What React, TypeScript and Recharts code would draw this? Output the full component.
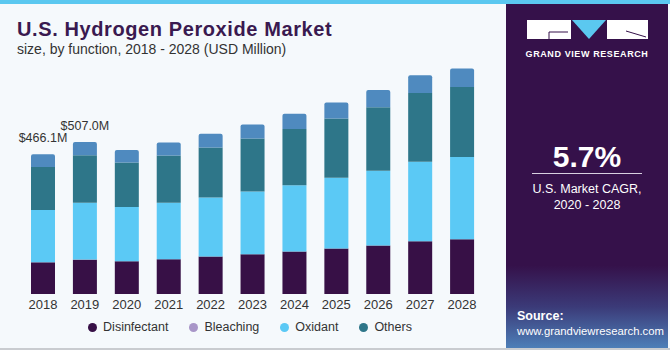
import React from 'react';
import { BarChart, Bar, XAxis, YAxis, Legend, LabelList } from 'recharts';

const years = ['2018', '2019', '2020', '2021', '2022', '2023', '2024', '2025', '2026', '2027', '2028'];
const disinfectant = [105.6, 114.6, 109.2, 115.9, 124.6, 132.6, 141.3, 151.3, 161.3, 175.7, 182.4];
const oxidant = [174.6, 189.5, 180.4, 188.0, 197.0, 209.0, 221.4, 236.0, 249.5, 265.2, 273.9];
const others = [143.5, 158.0, 149.0, 158.0, 167.0, 177.0, 187.0, 198.0, 211.4, 229.0, 233.8];
const bleaching = [42.4, 44.9, 41.4, 43.4, 45.8, 46.8, 51.4, 53.4, 58.1, 59.1, 61.5];
const labeledYears = ['2018', '2019'];

const legendItems = [
  { name: 'Disinfectant', color: '#371046' },
  { name: 'Bleaching', color: '#a896c8' },
  { name: 'Oxidant', color: '#5bc9f5' },
  { name: 'Others', color: '#2e7689' },
];

const data = years.map((year, i) => ({
  year,
  disinfectant: disinfectant[i],
  oxidant: oxidant[i],
  others: others[i],
  bleaching: bleaching[i],
  total: disinfectant[i] + oxidant[i] + others[i] + bleaching[i],
}));

const FONT = '"Liberation Sans", Arial, sans-serif';

/**
 * Total label above the first bars only
 */
function TotalLabel(props: any) {
  const { x, y, width, index } = props;
  const row = data[index];
  if (!row || !labeledYears.includes(row.year)) return null;
  return (
    <text
      x={x + width / 2}
      y={y - 12}
      textAnchor="middle"
      fontSize={12.5}
      fill="#333"
      fontFamily={FONT}
    >
      {`$${row.total.toFixed(1)}M`}
    </text>
  );
}

function LegendContent() {
  return (
    <div style={{ display: 'flex', justifyContent: 'center', gap: 21, fontSize: 12.5, color: '#333' }}>
      {legendItems.map((item) => (
        <span key={item.name} style={{ display: 'flex', alignItems: 'center', gap: 6 }}>
          <span style={{ width: 9, height: 9, borderRadius: '50%', background: item.color }} />
          {item.name}
        </span>
      ))}
    </div>
  );
}

function SidePanel() {
  return (
    <div
      style={{
        position: 'absolute',
        left: 506,
        top: 4,
        width: 162,
        height: 344,
        background:
          'linear-gradient(180deg, #35114a 0%, #35114a 76%, #3b3a78 88%, #4d7fb8 100%)',
        color: '#fff',
      }}
    >
      <svg width={162} height={60} style={{ position: 'absolute', left: 0, top: 0 }}>
        <rect x={21} y={16} width={44} height={19} fill="#fff" />
        <line x1={43} y1={28} x2={62} y2={28} stroke="#35114a" strokeWidth={1} />
        <line x1={43} y1={28} x2={43} y2={35} stroke="#35114a" strokeWidth={1} />
        <polygon points="66,16 100,16 83,35" fill="#5bc8f0" />
        <rect x={101} y={16} width={41} height={19} fill="#fff" />
        <line x1={120} y1={27} x2={140} y2={33} stroke="#35114a" strokeWidth={1} />
      </svg>
      <div
        style={{
          position: 'absolute',
          top: 45,
          left: 0,
          width: 162,
          textAlign: 'center',
          fontSize: 9,
          fontWeight: 700,
          letterSpacing: 0.6,
        }}
      >
        GRAND VIEW RESEARCH
      </div>
      <div
        style={{
          position: 'absolute',
          top: 136,
          left: 0,
          width: 162,
          textAlign: 'center',
          fontSize: 30,
          fontWeight: 700,
        }}
      >
        5.7%
      </div>
      <div style={{ position: 'absolute', top: 169, left: 26, width: 110, height: 1, background: '#d8d0e0' }} />
      <div
        style={{
          position: 'absolute',
          top: 177,
          left: 0,
          width: 162,
          textAlign: 'center',
          fontSize: 12.5,
          lineHeight: '16px',
        }}
      >
        U.S. Market CAGR,
        <br />
        2020 - 2028
      </div>
      <div style={{ position: 'absolute', top: 305, left: 11, fontSize: 11.3, lineHeight: '15px' }}>
        <b style={{ fontSize: 12.5 }}>Source:</b>
        <br />
        www.grandviewresearch.com
      </div>
    </div>
  );
}

export default function App() {
  return (
    <div
      style={{
        position: 'absolute',
        left: 0,
        top: 0,
        width: 670,
        height: 350,
        background: '#f5f9fc',
        fontFamily: FONT,
        overflow: 'hidden',
      }}
    >
      <div style={{ position: 'absolute', left: 0, top: 0, width: 670, height: 4, background: '#5bc8f0' }} />
      <div style={{ position: 'absolute', left: 0, top: 348, width: 670, height: 2, background: '#c9ccd0' }} />
      <div
        style={{
          position: 'absolute',
          left: 17,
          top: 18,
          fontSize: 20,
          fontWeight: 700,
          letterSpacing: 0.6,
          color: '#3a1a50',
        }}
      >
        U.S. Hydrogen Peroxide Market
      </div>
      <div style={{ position: 'absolute', left: 17, top: 41, fontSize: 14, color: '#333' }}>
        size, by function, 2018 - 2028 (USD Million)
      </div>

      <div style={{ position: 'absolute', left: 0, top: 0 }}>
        <BarChart
          width={500}
          height={350}
          data={data}
          margin={{ top: 54, right: 17, bottom: 26, left: 22 }}
        >
          <XAxis
            dataKey="year"
            axisLine={false}
            tickLine={false}
            tickSize={4}
            tick={{ fill: '#333', fontSize: 13 }}
            height={30}
          />
          <YAxis hide domain={[0, 800]} />
          <Legend
            verticalAlign="middle"
            layout="horizontal"
            align="center"
            content={<LegendContent />}
            wrapperStyle={{ top: 320, left: 0, width: 500 }}
          />
          <Bar dataKey="disinfectant" stackId="a" fill="#371046" barSize={24} isAnimationActive={false} />
          <Bar dataKey="oxidant" stackId="a" fill="#5bc9f5" barSize={24} isAnimationActive={false} />
          <Bar dataKey="others" stackId="a" fill="#2e7689" barSize={24} isAnimationActive={false} />
          <Bar
            dataKey="bleaching"
            stackId="a"
            fill="#4f8abf"
            barSize={24}
            radius={[2, 2, 0, 0]}
            isAnimationActive={false}
          >
            <LabelList dataKey="total" content={<TotalLabel />} />
          </Bar>
        </BarChart>
      </div>

      <SidePanel />
    </div>
  );
}
